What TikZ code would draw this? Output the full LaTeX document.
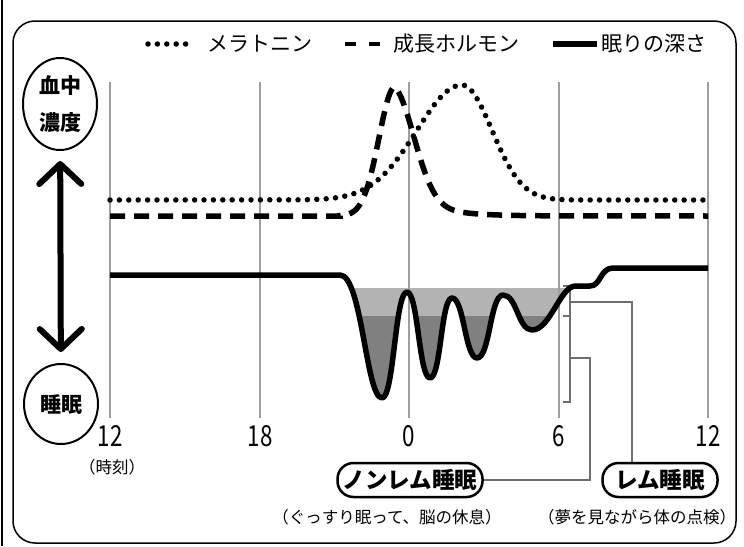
\documentclass[tikz,border=0pt]{standalone}
\usepackage{fontspec}
\setmainfont{Noto Sans CJK JP}
\usetikzlibrary{arrows.meta,shapes.geometric}
\definecolor{shallow}{HTML}{B3B3B3}
\definecolor{deep}{HTML}{808080}
\definecolor{gridgray}{HTML}{9E9E9E}
\definecolor{linkgray}{HTML}{707070}
\tikzset{
 grid line/.style={color=gridgray, line width=1.3pt},
 melatonin/.style={line width=5.5pt, line cap=round, dash pattern=on 0pt off 9.4pt},
 hormone/.style={line width=5.5pt, dash pattern=on 15pt off 9pt},
 depth/.style={line width=5.5pt, line join=round},
 conc/.style={draw, ellipse, line width=2pt, minimum width=74pt, inner sep=0pt, align=center, font=\fontsize{21}{37}\selectfont\bfseries},
 hour/.style={font=\fontsize{29}{29}\selectfont, xscale=0.77},
 note/.style={font=\fontsize{16.5}{16.5}\selectfont},
 pill/.style={draw, line width=2.5pt, rounded corners=16pt, minimum height=34pt, inner sep=0pt, font=\fontsize{22.5}{22.5}\selectfont\bfseries},
 link/.style={draw=linkgray, line width=1.2pt},
 legend/.style={font=\fontsize{21}{21}\selectfont, anchor=west, inner sep=0pt},
}
\newcommand{\sleepcurve}{(110,275) -- (340,275) .. controls (362,275) and (366,398) .. (382,398) .. controls (394,398) and (395,292) .. (407,292) .. controls (418,292) and (419,378) .. (430,378) .. controls (441,378) and (441,298) .. (452,298) .. controls (464,298) and (465,358) .. (477,358) .. controls (490,358) and (490,295) .. (503,295) .. controls (517,295) and (518,330) .. (532,330) .. controls (550,330) and (560,287) .. (575,286) -- (590,286) .. controls (601,286) and (600,268) .. (613,268) -- (708,268)}

\begin{document}
\begin{tikzpicture}[x=1pt,y=-1pt]
\useasboundingbox (0,0) rectangle (744,546);
\coordinate (tl) at (13,21);
\coordinate (br) at (736,543);
\coordinate (brem) at (570,302);
\coordinate (bnrem) at (570,358);
 \draw[line width=1.5pt] (2,0) -- (2,546);
 \draw[line width=1.5pt, rounded corners=22pt] (tl) rectangle (br);
 \begin{scope}
 \clip \sleepcurve -- cycle;
 \fill[shallow] (0,288) rectangle (744,316);
 \fill[deep] (0,316) rectangle (744,546);
 \end{scope}
 \foreach \x in {110,260,409,559,708}
  \draw[grid line] (\x,82) -- (\x,418);
 \draw[line width=1.3pt, color=linkgray] (563,286) -- (570,286) -- (570,402) -- (563,402);
 \draw[line width=1.3pt, color=linkgray] (563,316) -- (570,316);
 \draw[melatonin] (110,200) -- plot[domain=300:462,samples=60] (\x,{200-115*exp(-((\x-462)/45)*((\x-462)/45)/2)})
  -- plot[domain=462:620,samples=60] (\x,{200-115*exp(-((\x-462)/30)*((\x-462)/30)/2)}) -- (708,200);
 \draw[hormone] (110,216) -- (340,216) -- plot[domain=340:395,samples=50] (\x,{216-129*exp(-((\x-395)/16)*((\x-395)/16)/2)})
  -- plot[domain=395:560,samples=80] (\x,{216-129*(0.75*exp(-((\x-395)/20)*((\x-395)/20)/2)+0.25*exp(-(\x-395)/30))}) -- (708,216);
 \draw[depth] \sleepcurve;
 % legend
 \draw[melatonin] (148,44) -- (186,44);
 \node[legend] (lgmel) at (207,44) {メラトニン};
 \draw[line width=4.5pt, dash pattern=on 11pt off 13pt] (345,44) -- (380,44);
 \node[legend] (lghor) at (393,44) {成長ホルモン};
 \draw[line width=5.5pt] (553,44) -- (597,44);
 \node[legend] (lgdep) at (601,44) {眠りの深さ};
 % left scale
 \node[conc, minimum height=92pt] (conc) at (60,104) {血中\\濃度};
 \node[conc, minimum height=80pt] (sleep) at (61,404) {睡眠};
 \draw[line width=6pt, {Straight Barb[length=20pt,width=42pt,round]}-{Straight Barb[length=20pt,width=42pt,round]}, shorten <=10pt, shorten >=11pt] (conc) -- (sleep);
 % hours
 \node[hour] (h12a) at (110,436) {12};
 \node[hour] (h18) at (260,436) {18};
 \node[hour] (h0) at (409,436) {0};
 \node[hour] (h6) at (559,436) {6};
 \node[hour] (h12b) at (708,436) {12};
 \node[note] (jikoku) at (112,467) {（時刻）};
 % stages
 \node[pill, minimum width=145pt] (nonrem) at (410,480) {ノンレム睡眠};
 \node[note] (nonremnote) at (387,517) {（ぐっすり眠って、脳の休息）};
 \node[pill, minimum width=115pt] (rem) at (660,480) {レム睡眠};
 \node[note] (remnote) at (637,517) {（夢を見ながら体の点検）};
 \draw[link] (brem) -| ([xshift=-28pt]rem.north);
 \draw[link] (bnrem) -- ++(20,0) |- (nonrem.east);
\end{tikzpicture}
\end{document}
